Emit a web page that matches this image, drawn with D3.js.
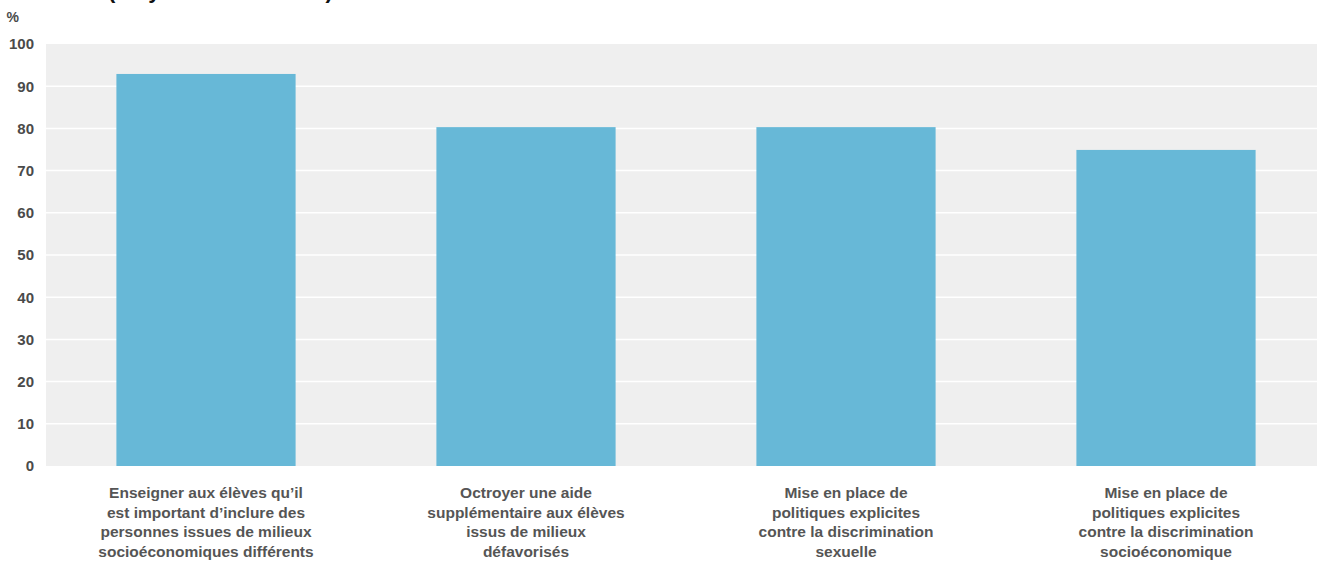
<!DOCTYPE html>
<html>
<head>
    <meta charset="utf-8">
    <title>Chart</title>
    <script src="https://d3js.org/d3.v7.min.js"></script>
    <style>
        body { margin: 0; background: #fff; }
        text { font-family: 'Liberation Sans', Arial, Helvetica, sans-serif; font-weight: bold; }
    </style>
</head>
<body>
    <svg id="chart" width="1317" height="565"></svg>
    <script>
        // categories (each label split into its lines) and values in %
        const categories = [
            ["Enseigner aux élèves qu’il", "est important d’inclure des", "personnes issues de milieux", "socioéconomiques différents"],
            ["Octroyer une aide", "supplémentaire aux élèves", "issus de milieux", "défavorisés"],
            ["Mise en place de", "politiques explicites", "contre la discrimination", "sexuelle"],
            ["Mise en place de", "politiques explicites", "contre la discrimination", "socioéconomique"]
        ];
        const values = [92.9, 80.3, 80.3, 74.9];
        const yTicks = [0, 10, 20, 30, 40, 50, 60, 70, 80, 90, 100];

        const width = 1317, height = 565;
        const plot = {left: 46, right: 1326, top: 44, bottom: 466};

        let svg = d3.select("#chart");

        // title, mostly cut off by the top edge as in the original
        svg.append("text")
            .attr("x", 108)
            .attr("y", -2)
            .attr("font-size", 22)
            .attr("fill", "#111")
            .text("(moyenne de l’OCDE)");

        let x = d3.scaleBand()
            .domain(d3.range(categories.length))
            .range([plot.left, plot.right])
            .paddingInner(0.44)
            .paddingOuter(0.22);

        let y = d3.scaleLinear()
            .domain([0, 100])
            .range([plot.bottom, plot.top]);

        // plot background
        svg.append("rect")
            .attr("x", plot.left)
            .attr("y", plot.top)
            .attr("width", plot.right - plot.left)
            .attr("height", plot.bottom - plot.top)
            .attr("fill", "#efefef");

        // gridlines
        svg.append("g")
            .selectAll("line")
            .data(yTicks.filter(d => d > 0 && d < 100))
            .join("line")
            .attr("x1", plot.left)
            .attr("x2", plot.right)
            .attr("y1", d => y(d))
            .attr("y2", d => y(d))
            .attr("stroke", "#fff")
            .attr("stroke-width", 1.5);

        // bars
        svg.append("g")
            .selectAll("rect")
            .data(values)
            .join("rect")
            .attr("x", (d, i) => x(i))
            .attr("y", d => y(d))
            .attr("width", x.bandwidth())
            .attr("height", d => y(0) - y(d))
            .attr("fill", "#67b8d7");

        // y axis
        let yAxis = svg.append("g")
            .attr("transform", `translate(${plot.left - 12},0)`)
            .call(d3.axisLeft(y).tickValues(yTicks).tickSize(0).tickPadding(0));
        yAxis.select(".domain").remove();
        yAxis.selectAll("text")
            .attr("font-size", 15)
            .attr("fill", "#4a4a4a")
            .attr("font-family", null);

        svg.append("text")
            .attr("x", 19)
            .attr("y", 22)
            .attr("text-anchor", "end")
            .attr("font-size", 14)
            .attr("fill", "#4a4a4a")
            .text("%");

        // category labels
        svg.append("g")
            .selectAll("text")
            .data(categories)
            .join("text")
            .attr("x", (d, i) => x(i) + x.bandwidth() / 2)
            .attr("y", 498)
            .attr("text-anchor", "middle")
            .attr("font-size", 15.5)
            .attr("fill", "#555")
            .selectAll("tspan")
            .data(d => d)
            .join("tspan")
            .attr("x", function() { return this.parentNode.getAttribute("x"); })
            .attr("dy", (d, i) => i === 0 ? 0 : 19.5)
            .text(d => d);
    </script>
</body>
</html>
